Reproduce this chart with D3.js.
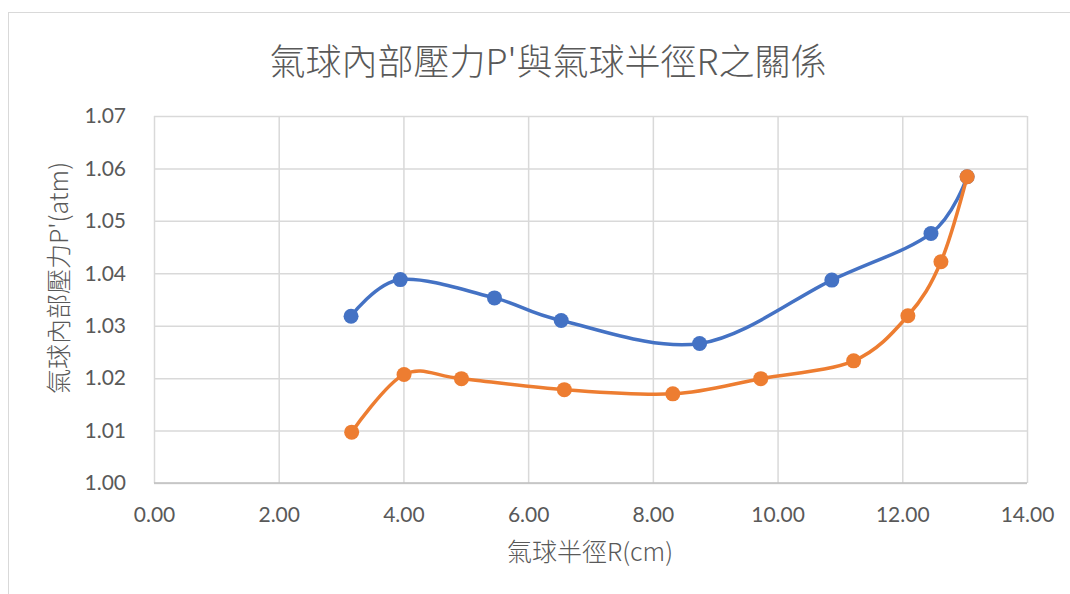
<!DOCTYPE html>
<html>
<head>
<meta charset="utf-8">
<script src="https://cdn.jsdelivr.net/npm/d3@7"></script>
<style>
  html, body { margin: 0; padding: 0; background: #fff; }
  svg { display: block; }
</style>
</head>
<body>
<svg id="chart" width="1070" height="594"></svg>
<script>
// Balloon radius R (cm) and internal pressure P' (atm), two trials
const blueR = [3.16, 3.95, 5.46, 6.53, 8.75, 10.87, 12.46, 13.04];
const blueP = [1.0318, 1.0388, 1.0353, 1.0310, 1.0266, 1.0387, 1.0476, 1.0584];
const orangeR = [3.17, 4.01, 4.93, 6.58, 8.32, 9.73, 11.22, 12.09, 12.62, 13.04];
const orangeP = [1.0097, 1.0207, 1.0199, 1.0178, 1.0170, 1.0199, 1.0233, 1.0319, 1.0422, 1.0584];
const xTicks = [0, 2, 4, 6, 8, 10, 12, 14];
const yTicks = [1.00, 1.01, 1.02, 1.03, 1.04, 1.05, 1.06, 1.07];

const titleText = "氣球內部壓力P'與氣球半徑R之關係";
const xTitle = "氣球半徑R(cm)";
const yTitle = "氣球內部壓力P'(atm)";

const svg = d3.select("#chart");
const W = 1070, H = 594;
const plot = { left: 154, right: 1027, top: 116, bottom: 483 };

// chart frame
svg.append("rect")
  .attr("x", 8.5).attr("y", 12.5)
  .attr("width", W + 20).attr("height", H + 20)
  .attr("fill", "#fff").attr("stroke", "#d9d9d9").attr("stroke-width", 1);

const x = d3.scaleLinear().domain([0, 14]).range([plot.left, plot.right]);
const y = d3.scaleLinear().domain([1.00, 1.07]).range([plot.bottom, plot.top]);

const labelFont = "Lato, 'Noto Sans', sans-serif";
const cjkFont = "'Noto Sans CJK TC', 'Noto Sans CJK SC', sans-serif";

// gridlines via axes
const xGrid = d3.axisBottom(x).tickValues(xTicks).tickSize(-(plot.bottom - plot.top)).tickFormat("");
const yGrid = d3.axisLeft(y).tickValues(yTicks).tickSize(-(plot.right - plot.left)).tickFormat("");

svg.append("g").attr("transform", `translate(0,${plot.bottom})`).call(xGrid)
  .call(g => g.select(".domain").remove())
  .call(g => g.selectAll("line").attr("stroke", "#d9d9d9").attr("stroke-width", 1.5));
svg.append("g").attr("transform", `translate(${plot.left},0)`).call(yGrid)
  .call(g => g.select(".domain").remove())
  .call(g => g.selectAll("line").attr("stroke", "#d9d9d9").attr("stroke-width", 1.5));

// baseline
svg.append("line")
  .attr("x1", plot.left).attr("x2", plot.right)
  .attr("y1", y(1.00)).attr("y2", y(1.00))
  .attr("stroke", "#bfbfbf").attr("stroke-width", 1.5);

// tick labels
const xAxis = d3.axisBottom(x).tickValues(xTicks).tickSize(0).tickPadding(24).tickFormat(d3.format(".2f"));
svg.append("g").attr("transform", `translate(0,${plot.bottom})`).call(xAxis)
  .call(g => g.select(".domain").remove())
  .call(g => g.selectAll("text").attr("fill", "#595959").attr("font-size", 21).attr("font-family", labelFont));

const yAxis = d3.axisLeft(y).tickValues(yTicks).tickSize(0).tickPadding(28).tickFormat(d3.format(".2f"));
svg.append("g").attr("transform", `translate(${plot.left},0)`).call(yAxis)
  .call(g => g.select(".domain").remove())
  .call(g => g.selectAll("text").attr("fill", "#595959").attr("font-size", 21).attr("font-family", labelFont));

// titles
svg.append("text")
  .attr("x", 548).attr("y", 75)
  .attr("text-anchor", "middle")
  .attr("fill", "#595959").attr("font-size", 36).attr("font-weight", 300).attr("font-family", cjkFont)
  .text(titleText);

svg.append("text")
  .attr("x", 590).attr("y", 561)
  .attr("text-anchor", "middle")
  .attr("fill", "#595959").attr("font-size", 25).attr("font-weight", 300).attr("font-family", cjkFont)
  .text(xTitle);

svg.append("text")
  .attr("transform", `translate(68,278) rotate(-90)`)
  .attr("text-anchor", "middle")
  .attr("fill", "#595959").attr("font-size", 25).attr("font-weight", 300).attr("font-family", cjkFont)
  .text(yTitle);

// series
const series = [
  { r: blueR, p: blueP, color: "#4472C4" },
  { r: orangeR, p: orangeP, color: "#ED7D31" }
];

const line = d3.line()
  .x(d => x(d[0])).y(d => y(d[1]))
  .curve(d3.curveCatmullRom.alpha(0));

series.forEach(s => {
  const pts = s.r.map((r, i) => [r, s.p[i]]);
  const g = svg.append("g");
  g.append("path")
    .attr("d", line(pts))
    .attr("fill", "none")
    .attr("stroke", s.color)
    .attr("stroke-width", 3.5)
    .attr("stroke-linecap", "round")
    .attr("stroke-linejoin", "round");
  g.selectAll("circle").data(pts).join("circle")
    .attr("cx", d => x(d[0])).attr("cy", d => y(d[1]))
    .attr("r", 7.5)
    .attr("fill", s.color);
});
</script>
</body>
</html>
